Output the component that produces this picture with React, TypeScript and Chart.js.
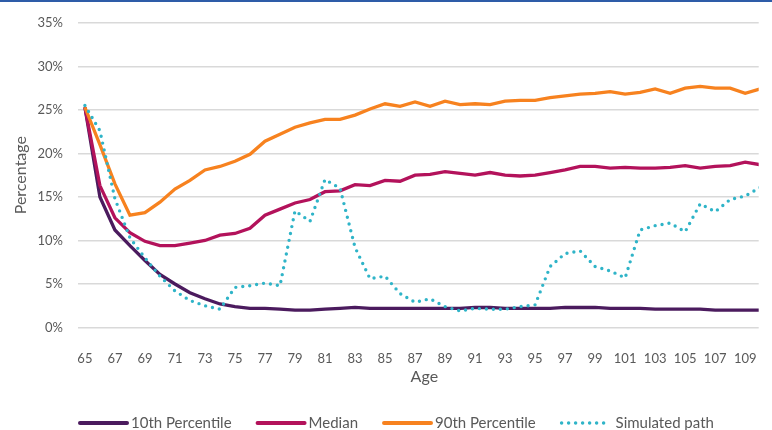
import { useEffect, useRef } from 'react';
import { Chart, registerables } from 'chart.js';

Chart.register(...registerables);

const ages = [
  65, 66, 67, 68, 69, 70, 71, 72, 73, 74, 75, 76, 77, 78, 79, 80, 81, 82, 83, 84, 85, 86, 87,
  88, 89, 90, 91, 92, 93, 94, 95, 96, 97, 98, 99, 100, 101, 102, 103, 104, 105, 106, 107, 108,
  109, 110,
];
const tickAges = [65, 67, 69, 71, 73, 75, 77, 79, 81, 83, 85, 87, 89, 91, 93, 95, 97, 99, 101, 103, 105, 107, 109];

const p10 = [
  25.3, 15.0, 11.2, 9.4, 7.7, 6.1, 5.0, 4.0, 3.3, 2.7, 2.4, 2.2, 2.2, 2.1, 2.0, 2.0, 2.1, 2.2, 2.3,
  2.2, 2.2, 2.2, 2.2, 2.2, 2.2, 2.2, 2.3, 2.3, 2.2, 2.2, 2.2, 2.2, 2.3, 2.3, 2.3, 2.2, 2.2, 2.2,
  2.1, 2.1, 2.1, 2.1, 2.0, 2.0, 2.0, 2.0,
];
const median = [
  25.3, 16.3, 12.6, 10.9, 9.9, 9.4, 9.4, 9.7, 10.0, 10.6, 10.8, 11.4, 12.9, 13.6, 14.3, 14.7, 15.6,
  15.7, 16.4, 16.3, 16.9, 16.8, 17.5, 17.6, 17.9, 17.7, 17.5, 17.8, 17.5, 17.4, 17.5, 17.8, 18.1,
  18.5, 18.5, 18.3, 18.4, 18.3, 18.3, 18.4, 18.6, 18.3, 18.5, 18.6, 19.0, 18.7,
];
const p90 = [
  25.3, 21.0, 16.5, 12.9, 13.2, 14.4, 15.9, 16.9, 18.1, 18.5, 19.1, 19.9, 21.4, 22.2, 23.0, 23.5,
  23.9, 23.9, 24.4, 25.1, 25.7, 25.4, 25.9, 25.4, 26.0, 25.6, 25.7, 25.6, 26.0, 26.1, 26.1, 26.4,
  26.6, 26.8, 26.9, 27.1, 26.8, 27.0, 27.4, 26.9, 27.5, 27.7, 27.5, 27.5, 26.9, 27.4,
];
const simulated = [
  25.5, 22.6, 14.8, 10.3, 8.0, 5.9, 4.2, 3.1, 2.5, 2.1, 4.6, 4.8, 5.1, 4.8, 13.4, 12.2, 17.0, 16.0,
  9.2, 5.6, 5.9, 3.9, 2.9, 3.3, 2.4, 1.9, 2.2, 2.1, 2.1, 2.4, 2.6, 7.0, 8.5, 8.8, 7.0, 6.5, 5.7,
  11.2, 11.7, 12.0, 11.0, 14.2, 13.3, 14.7, 15.1, 16.1,
];

const seriesNames = ['10th Percentile', 'Median', '90th Percentile', 'Simulated path'];
const xTitle = 'Age';
const yTitle = 'Percentage';

const FONT = 'Lato, "Liberation Sans", sans-serif';
const TEXT = '#595959';

const toPoints = (vals: number[]) => vals.map((v, i) => ({ x: ages[i], y: v }));

const legendPlugin = {
  id: 'bottomLegend',
  afterDraw(chart: any) {
    const ctx = chart.ctx as CanvasRenderingContext2D;
    const area = chart.chartArea;
    ctx.save();
    // x-axis title
    ctx.font = `16px ${FONT}`;
    ctx.fillStyle = TEXT;
    ctx.textAlign = 'center';
    ctx.textBaseline = 'middle';
    ctx.fillText(xTitle, (area.left + area.right) / 2 + 6, area.bottom + 49);
    // legend
    ctx.font = `15px ${FONT}`;
    ctx.textAlign = 'left';
    let x = area.left + 2;
    const y = chart.height - 7;
    chart.data.datasets.forEach((ds: any) => {
      ctx.strokeStyle = ds.borderColor;
      ctx.lineCap = 'round';
      ctx.lineWidth = ds.borderDash ? 3.5 : 4;
      ctx.setLineDash(ds.borderDash || []);
      ctx.beginPath();
      ctx.moveTo(x, y);
      ctx.lineTo(x + 47, y);
      ctx.stroke();
      ctx.setLineDash([]);
      ctx.fillStyle = TEXT;
      const tx = x + (ds.borderDash ? 54 : 51);
      ctx.fillText(ds.label, tx, y);
      x = tx + ctx.measureText(ds.label).width + 26;
    });
    ctx.restore();
  },
};

export default function App() {
  const ref = useRef<HTMLCanvasElement | null>(null);

  useEffect(() => {
    if (!ref.current) return;
    const chart = new Chart(ref.current, {
      type: 'line',
      data: {
        datasets: [
          {
            label: seriesNames[0],
            data: toPoints(p10),
            borderColor: '#4b1b5e',
            borderWidth: 3.3,
            pointRadius: 0,
            tension: 0,
            order: 3,
          },
          {
            label: seriesNames[1],
            data: toPoints(median),
            borderColor: '#b3125b',
            borderWidth: 3.3,
            pointRadius: 0,
            tension: 0,
            order: 2,
          },
          {
            label: seriesNames[2],
            data: toPoints(p90),
            borderColor: '#f7821f',
            borderWidth: 3.3,
            pointRadius: 0,
            tension: 0,
            order: 1,
          },
          {
            label: seriesNames[3],
            data: toPoints(simulated),
            borderColor: '#2fb4c8',
            borderWidth: 3.4,
            borderDash: [0, 7],
            borderCapStyle: 'round',
            pointRadius: 0,
            tension: 0,
            order: 0,
          } as any,
        ],
      },
      options: {
        animation: false,
        responsive: false,
        layout: { padding: { top: 22.5, right: 0, bottom: 0, left: 0 } },
        plugins: {
          legend: { display: false },
          tooltip: { enabled: false },
        },
        scales: {
          x: {
            type: 'linear',
            min: 64.54,
            max: 109.9,
            grid: { display: false },
            border: { display: false },
            afterBuildTicks: (scale: any) => {
              scale.ticks = tickAges.map((v) => ({ value: v }));
            },
            afterFit: (scale: any) => {
              scale.height = 102.5;
            },
            ticks: {
              color: TEXT,
              font: { family: FONT, size: 13 },
              padding: 15.5,
              maxRotation: 0,
              autoSkip: false,
              callback: (v: any) => String(v),
            },
            title: { display: false },
          },
          y: {
            min: 0,
            max: 35,
            grid: { color: '#d9d9d9', lineWidth: 1.5, drawTicks: false },
            border: { display: false },
            afterFit: (scale: any) => {
              scale.width = 78;
            },
            ticks: {
              stepSize: 5,
              color: TEXT,
              font: { family: FONT, size: 13 },
              padding: 15,
              callback: (v: any) => `${v}%`,
            },
            title: {
              display: true,
              text: yTitle,
              color: TEXT,
              font: { family: FONT, size: 16 },
              padding: { top: 11, bottom: 0 },
            },
          },
        },
      },
      plugins: [legendPlugin],
    });
    return () => chart.destroy();
  }, []);

  return (
    <div style={{ position: 'fixed', left: 0, top: 0, width: 772, height: 430, background: '#fff', overflow: 'hidden' }}>
      <canvas ref={ref} width={772} height={430} style={{ display: 'block', width: 772, height: 430 }} />
      <div style={{ position: 'absolute', left: 0, top: 0, width: 772, height: 2, background: '#2e5ca8' }} />
    </div>
  );
}
